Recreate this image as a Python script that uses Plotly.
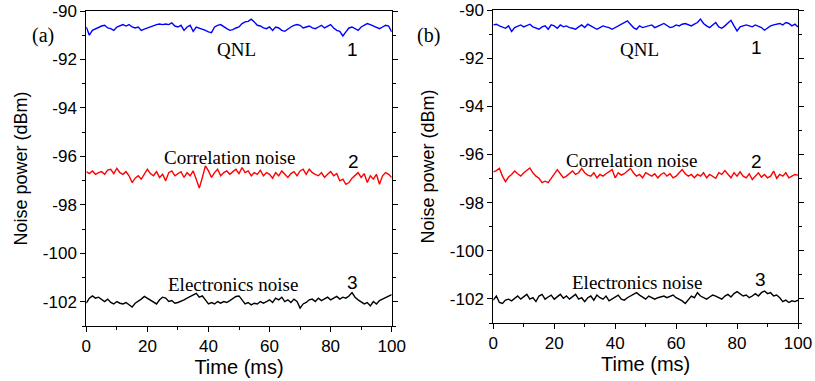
import plotly.graph_objects as go

# ---------------- data ----------------
time_ms = list(range(0, 101))

a_qnl = [-90.66, -91.00, -90.80, -90.73, -90.66, -90.62, -90.59, -90.70, -90.73, -90.80,
         -90.66, -90.62, -90.56, -90.62, -90.56, -90.66, -90.70, -90.66, -90.80, -90.75,
         -90.70, -90.66, -90.62, -90.56, -90.54, -90.56, -90.54, -90.56, -90.49, -90.62,
         -90.66, -90.59, -90.80, -90.66, -90.59, -90.84, -90.66, -90.70, -90.73, -90.80,
         -90.86, -90.89, -90.66, -90.59, -90.56, -90.66, -90.73, -90.80, -90.77, -90.70,
         -90.66, -90.52, -90.45, -90.43, -90.34, -90.45, -90.59, -90.62, -90.70, -90.73,
         -90.66, -90.80, -90.66, -90.70, -90.80, -90.84, -90.73, -90.66, -90.59, -90.56,
         -90.59, -90.70, -90.66, -90.62, -90.70, -90.73, -90.66, -90.59, -90.70, -90.62,
         -90.56, -90.70, -90.80, -90.84, -91.03, -90.86, -90.70, -90.66, -90.73, -90.80,
         -90.66, -90.59, -90.52, -90.56, -90.62, -90.70, -90.73, -90.66, -90.59, -90.62,
         -90.86]

a_corr = [-96.63, -96.71, -96.60, -96.74, -96.67, -96.63, -96.74, -96.57, -96.53, -96.71,
          -96.49, -96.67, -96.74, -96.63, -96.80, -97.08, -96.90, -96.80, -96.94, -96.74,
          -96.53, -96.71, -96.80, -96.63, -96.87, -96.74, -97.01, -96.67, -96.60, -96.80,
          -96.71, -96.63, -96.87, -96.67, -96.80, -96.60, -96.94, -97.31, -96.87, -96.39,
          -96.60, -96.87, -96.67, -96.53, -96.80, -96.67, -96.60, -96.74, -96.63, -96.53,
          -96.71, -96.46, -96.67, -96.60, -96.80, -96.67, -96.74, -96.57, -96.80, -96.67,
          -96.74, -96.90, -96.67, -96.80, -96.60, -96.76, -96.87, -96.71, -96.63, -96.80,
          -96.60, -96.53, -96.74, -96.53, -96.67, -96.74, -96.80, -96.67, -96.87, -96.74,
          -96.63, -96.80, -96.71, -97.01, -96.94, -97.15, -97.08, -96.90, -96.80, -96.67,
          -96.87, -96.71, -97.08, -96.80, -96.94, -96.74, -97.15, -96.80, -96.67, -96.74,
          -96.87]

a_elec = [-102.06, -101.85, -101.76, -101.85, -101.81, -101.92, -101.99, -101.89, -102.03, -102.09,
          -101.99, -102.06, -102.09, -102.03, -102.13, -102.22, -102.06, -101.99, -101.89, -101.78,
          -101.85, -101.95, -101.99, -102.09, -101.92, -101.81, -101.85, -101.99, -101.95, -102.06,
          -102.03, -101.99, -101.92, -101.85, -101.78, -101.71, -101.65, -101.81, -101.76, -101.92,
          -102.09, -102.03, -102.09, -101.99, -102.06, -101.99, -102.03, -101.95, -101.85, -101.78,
          -101.76, -101.92, -102.09, -102.03, -102.13, -102.06, -102.09, -101.99, -102.06, -101.99,
          -101.92, -102.03, -101.85, -101.92, -101.81, -101.99, -101.92, -102.03, -101.89, -101.99,
          -102.26, -102.09, -102.03, -101.92, -101.89, -101.99, -101.85, -101.95, -101.89, -101.81,
          -101.92, -101.85, -101.78, -101.89, -101.81, -101.85, -101.76, -101.62, -101.81, -101.92,
          -101.99, -102.09, -102.03, -102.17, -101.99, -102.09, -101.95, -101.89, -101.85, -101.76,
          -101.71]

b_qnl = [-90.62, -90.59, -90.66, -90.70, -90.76, -90.66, -90.89, -90.73, -90.66, -90.62,
         -90.70, -90.66, -90.59, -90.70, -90.76, -90.80, -90.70, -90.66, -90.80, -90.62,
         -90.66, -90.76, -90.62, -90.70, -90.66, -90.73, -90.76, -90.80, -90.70, -90.62,
         -90.73, -90.59, -90.66, -90.73, -90.80, -90.73, -90.66, -90.70, -90.73, -90.80,
         -90.73, -90.66, -90.62, -90.52, -90.45, -90.59, -90.73, -90.80, -90.66, -90.73,
         -90.70, -90.66, -90.62, -90.73, -90.66, -90.62, -90.56, -90.66, -90.73, -90.70,
         -90.62, -90.66, -90.59, -90.56, -90.62, -90.66, -90.59, -90.52, -90.38, -90.56,
         -90.66, -90.73, -90.62, -90.52, -90.70, -90.76, -90.66, -90.56, -90.43, -90.66,
         -90.87, -90.70, -90.66, -90.62, -90.66, -90.70, -90.62, -90.66, -90.73, -90.84,
         -90.73, -90.66, -90.62, -90.59, -90.56, -90.62, -90.52, -90.56, -90.66, -90.59,
         -90.70]

b_corr = [-96.72, -96.67, -96.58, -96.90, -97.13, -96.94, -96.83, -96.69, -96.80, -96.90,
          -96.76, -96.67, -96.56, -96.76, -96.90, -96.99, -97.17, -97.11, -97.17, -96.99,
          -96.83, -96.63, -96.80, -96.97, -96.90, -96.80, -96.69, -96.83, -96.76, -96.58,
          -96.76, -96.86, -96.90, -96.76, -96.97, -96.83, -96.90, -96.80, -96.72, -96.63,
          -96.97, -96.76, -96.86, -96.80, -96.69, -96.58, -96.76, -96.90, -96.83, -96.97,
          -96.76, -96.83, -96.90, -96.80, -96.97, -96.83, -96.76, -96.90, -96.80, -96.97,
          -96.90, -96.76, -96.63, -96.80, -96.90, -96.83, -96.97, -96.83, -96.90, -96.76,
          -96.97, -96.83, -96.90, -96.99, -96.76, -96.83, -96.67, -96.83, -96.97, -96.76,
          -96.90, -96.72, -96.90, -96.97, -96.80, -97.04, -96.90, -96.76, -96.94, -96.83,
          -96.97, -96.90, -96.69, -96.99, -96.83, -96.90, -96.76, -96.97, -96.90, -96.83,
          -96.86]

b_elec = [-102.05, -101.88, -102.15, -102.19, -102.05, -102.01, -102.08, -101.97, -101.88, -102.01,
          -101.92, -101.81, -102.01, -101.95, -102.11, -101.88, -101.81, -102.01, -101.92, -101.84,
          -102.01, -101.92, -101.81, -101.97, -101.88, -102.01, -101.92, -101.81, -102.01, -101.95,
          -102.11, -101.95, -101.88, -102.05, -101.84, -101.95, -102.01, -101.88, -102.08, -102.01,
          -101.92, -101.84, -102.01, -102.05, -101.95, -101.88, -101.81, -101.74, -101.84, -101.92,
          -102.01, -101.88, -101.95, -102.01, -101.95, -101.92, -101.88, -101.95, -101.88, -101.84,
          -101.95, -102.01, -102.08, -102.19, -102.01, -101.88, -101.95, -101.74, -101.88, -101.95,
          -102.01, -101.92, -101.84, -101.88, -101.95, -102.01, -101.88, -101.81, -101.92, -101.78,
          -101.70, -101.81, -101.88, -101.84, -101.95, -101.88, -101.78, -101.88, -101.74, -101.67,
          -101.78, -101.74, -101.88, -101.84, -101.95, -102.11, -102.05, -102.15, -102.08, -102.11,
          -102.05]

x_tick_vals = [0, 20, 40, 60, 80, 100]
y_tick_vals = [-90, -92, -94, -96, -98, -100, -102]
y_tick_text = ["-90", "-92", "-94", "-96", "-98", "-100", "-102"]

label_texts = ["QNL", "Correlation noise", "Electronics noise"]
label_numbers = ["1", "2", "3"]
# annotation anchor positions (data coordinates) per panel
a_label_x = [49.2, 47.0, 48.0]
a_label_y = [-91.6, -96.05, -101.28]
a_num_x = [87.3, 87.6, 87.3]
a_num_y = [-91.6, -96.2, -101.2]
b_label_x = [48.1, 45.5, 47.2]
b_label_y = [-91.65, -96.27, -101.3]
b_num_x = [86.5, 86.5, 87.8]
b_num_y = [-91.57, -96.3, -101.18]

SANS = "Liberation Sans, Arial, sans-serif"
SERIF = "Liberation Serif, Times New Roman, serif"

fig = go.Figure()

series = [
    (a_qnl, "#0000ff", "x", "y"), (a_corr, "#ff0000", "x", "y"), (a_elec, "#000000", "x", "y"),
    (b_qnl, "#0000ff", "x2", "y2"), (b_corr, "#ff0000", "x2", "y2"), (b_elec, "#000000", "x2", "y2"),
]
for vals, col, xa, ya in series:
    fig.add_trace(go.Scatter(x=time_ms, y=vals, mode="lines",
                             line=dict(color=col, width=1.4),
                             xaxis=xa, yaxis=ya, showlegend=False, hoverinfo="skip"))

W, H = 815, 381


def px_x(p):
    return p / W


def px_y(p):
    return 1 - p / H


def xaxis_cfg(dom, anchor):
    return dict(domain=dom, anchor=anchor, range=[0, 100], tickvals=x_tick_vals,
                ticks="outside", ticklen=5, tickwidth=1, tickcolor="black",
                minor=dict(dtick=10, tick0=0, ticks="outside", ticklen=3, tickcolor="black"),
                showline=True, linecolor="black", linewidth=1, mirror=True,
                showgrid=False, zeroline=False, automargin=False,
                ticklabeloverflow="allow",
                tickfont=dict(family=SANS, size=17, color="black"),
                title=dict(text="Time (ms)", font=dict(family=SANS, size=20, color="black"),
                           standoff=4))


def yaxis_cfg(dom, anchor):
    return dict(domain=dom, anchor=anchor, range=[-103, -90], tickvals=y_tick_vals,
                ticktext=y_tick_text,
                ticks="outside", ticklen=5, tickwidth=1, tickcolor="black",
                minor=dict(dtick=1, tick0=-91, ticks="outside", ticklen=3, tickcolor="black"),
                showline=True, linecolor="black", linewidth=1, mirror="ticks",
                showgrid=False, zeroline=False, automargin=False,
                ticklabeloverflow="allow",
                tickfont=dict(family=SANS, size=17, color="black"),
                title=dict(text="Noise power (dBm)", font=dict(family=SANS, size=18, color="black"),
                           standoff=10))


fig.update_layout(
    width=W, height=H,
    margin=dict(l=0, r=0, t=0, b=0, autoexpand=False),
    paper_bgcolor="white", plot_bgcolor="white",
    xaxis=xaxis_cfg([px_x(86.3), px_x(391.7)], "y"),
    yaxis=yaxis_cfg([px_y(326), px_y(11)], "x"),
    xaxis2=xaxis_cfg([px_x(493.3), px_x(798)], "y2"),
    yaxis2=yaxis_cfg([px_y(323), px_y(10)], "x2"),
)

anns = []
for xs, ys, nx, ny, xr, yr in [(a_label_x, a_label_y, a_num_x, a_num_y, "x", "y"),
                               (b_label_x, b_label_y, b_num_x, b_num_y, "x2", "y2")]:
    for i in range(3):
        anns.append(dict(x=xs[i], y=ys[i], xref=xr, yref=yr, text=label_texts[i],
                         showarrow=False, font=dict(family=SERIF, size=19, color="black")))
        anns.append(dict(x=nx[i], y=ny[i], xref=xr, yref=yr, text=label_numbers[i],
                         showarrow=False, font=dict(family=SANS, size=19, color="black")))

anns.append(dict(x=px_x(30), y=px_y(22), xref="paper", yref="paper", text="(a)",
                 showarrow=False, font=dict(family=SERIF, size=20, color="black")))
anns.append(dict(x=px_x(428), y=px_y(22), xref="paper", yref="paper", text="(b)",
                 showarrow=False, font=dict(family=SERIF, size=20, color="black")))
fig.update_layout(annotations=anns)

# remove the browser's default page margin so the figure fills the window
fig.write_html("out.html", config={"displayModeBar": False},
               post_script="document.body.style.margin='0';document.body.style.overflow='hidden';")
